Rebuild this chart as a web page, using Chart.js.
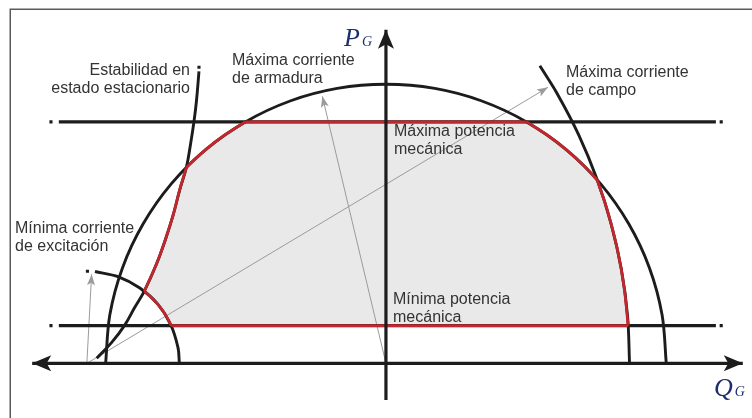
<!DOCTYPE html>
<html lang="es">
<head>
<meta charset="utf-8">
<title>Curva de capacidad del generador</title>
<script src="https://cdn.jsdelivr.net/npm/chart.js@4.4.1/dist/chart.umd.min.js"></script>
<style>
  html, body { margin: 0; padding: 0; background: #fff; }
  canvas { display: block; }
</style>
</head>
<body>
<canvas id="capability" width="752" height="418"></canvas>
<script>
"use strict";

// unidades: % de la corriente nominal de armadura (radio del círculo de armadura = 100)
const Q_AXIS = [[-126.2, 0], [127.3, 0]];
const P_AXIS = [[0, -13.1], [0, 119.5]];

// límites de potencia mecánica
const MAX_POWER_LINE = [[-116.7, 86.5], [117.7, 86.5]];
const MIN_POWER_LINE = [[-116.7, 13.5], [117.7, 13.5]];

// curvas límite (trazo negro completo)
const ARMATURE_CURVE = [
    [100, 0], [98.5, 17.4], [94.0, 34.2], [86.6, 50.0], [76.6, 64.3], [64.3, 76.6],
    [50.0, 86.6], [34.2, 94.0], [17.4, 98.5], [0, 100], [-17.4, 98.5], [-34.2, 94.0],
    [-50.0, 86.6], [-64.3, 76.6], [-76.6, 64.3], [-86.6, 50.0], [-94.0, 34.2],
    [-98.5, 17.4], [-100, 0]
];
const FIELD_CURVE = [
    [54.9, 106.6], [61.0, 96.8], [68.8, 81.8], [75.2, 66.2], [80.3, 50.1],
    [84.0, 33.6], [86.2, 16.9], [86.9, 0]
];
const MIN_EXCITATION_CURVE = [
    [-103.8, 32.9], [-95.4, 31.0], [-87.8, 27.0], [-81.4, 21.2], [-76.8, 13.9],
    [-74.2, 5.7], [-73.7, 0]
];
const STABILITY_CURVE = [
    [-66.7, 104.6], [-67.6, 94.0], [-68.5, 86.5], [-69.8, 78.0], [-71.2, 70.2],
    [-73.6, 62.1], [-75.9, 53.2], [-78.7, 44.3], [-81.9, 35.5], [-86.2, 25.9],
    [-89.7, 19.9], [-93.3, 13.5], [-97.9, 7.4], [-103.2, 1.8]
];

// contorno de la zona de operación (rojo), tramo a tramo
const REGION_BOTTOM = [[-76.6, 13.5], [86.4, 13.5]];
const REGION_FIELD = [[86.4, 13.5], [85.0, 26.9], [82.7, 40.2], [79.4, 53.4], [75.4, 65.7]];
const REGION_ARMATURE_RIGHT = [[75.4, 65.7], [70.7, 70.7], [64.3, 76.6], [57.4, 81.9], [50.2, 86.5]];
const REGION_TOP = [[50.2, 86.5], [-50.2, 86.5]];
const REGION_ARMATURE_LEFT = [[-50.2, 86.5], [-57.4, 81.9], [-64.3, 76.6], [-71.2, 70.2]];
const REGION_STABILITY = [[-71.2, 70.2], [-73.6, 62.1], [-75.9, 53.2], [-78.7, 44.3], [-81.9, 35.5], [-86.2, 25.9]];
const REGION_MIN_EXCITATION = [[-86.2, 25.9], [-83.4, 23.3], [-80.7, 20.3], [-78.4, 17.0], [-76.6, 13.5]];

// flechas de radio (gris)
const ARMATURE_RADIUS = [[0, 0], [-22.7, 95.7]];
const FIELD_RADIUS = [[-106.7, 0], [57.8, 98.9]];
const EXCITATION_RADIUS = [[-106.7, 0], [-105.0, 31.9]];

// puntos de remate de las líneas
const END_DOTS = [
    [-119.5, 86.5], [119.6, 86.5], [-119.5, 13.5], [119.6, 13.5],
    [-66.7, 106.1], [-106.5, 33.0]
];

const CURVE_LABELS = [
    ['Estabilidad en', 'estado estacionario'],
    ['Máxima corriente', 'de armadura'],
    ['Máxima corriente', 'de campo'],
    ['Máxima potencia', 'mecánica'],
    ['Mínima corriente', 'de excitación'],
    ['Mínima potencia', 'mecánica']
];
const AXIS_LABELS = [['P', 'G'], ['Q', 'G']];

const BLACK = '#1c1c1c';
const RED = '#c1272d';
const GREY = '#9b9b9b';
const FILL = '#e9e9e9';
const TEXT = '#333333';
const NAVY = '#1c2e6e';

const toXY = pts => pts.map(([x, y]) => ({ x, y }));

function line(points, color, width, extra) {
    return Object.assign({
        data: toXY(points),
        borderColor: color,
        borderWidth: width,
        pointRadius: 0,
        pointHoverRadius: 0,
        fill: false,
        tension: 0,
        borderCapStyle: 'butt'
    }, extra);
}

const regionOutline = [].concat(
    REGION_BOTTOM, REGION_FIELD, REGION_ARMATURE_RIGHT, REGION_TOP,
    REGION_ARMATURE_LEFT, REGION_STABILITY, REGION_MIN_EXCITATION
);

const datasets = [
    // zona de operación
    line(regionOutline, 'rgba(0,0,0,0)', 0, { fill: 'shape', backgroundColor: FILL, order: 10 }),
    // radios
    line(ARMATURE_RADIUS, GREY, 1, { order: 8, arrow: ['end'] }),
    line(FIELD_RADIUS, GREY, 1, { order: 8, arrow: ['end'] }),
    line(EXCITATION_RADIUS, GREY, 1, { order: 8, arrow: ['end'] }),
    // curvas límite
    line(ARMATURE_CURVE, BLACK, 2.9, { tension: 0.34, order: 6 }),
    line(FIELD_CURVE, BLACK, 2.9, { tension: 0.34, order: 6 }),
    line(MIN_EXCITATION_CURVE, BLACK, 2.9, { tension: 0.34, order: 6 }),
    line(STABILITY_CURVE, BLACK, 2.9, { tension: 0.4, order: 6 }),
    line(MAX_POWER_LINE, BLACK, 3.2, { order: 6 }),
    line(MIN_POWER_LINE, BLACK, 3.2, { order: 6 }),
    // contorno rojo
    line(REGION_BOTTOM, RED, 2.8, { order: 4 }),
    line(REGION_FIELD, RED, 2.8, { tension: 0.34, order: 4 }),
    line(REGION_ARMATURE_RIGHT, RED, 2.8, { tension: 0.34, order: 4 }),
    line(REGION_TOP, RED, 2.8, { order: 4 }),
    line(REGION_ARMATURE_LEFT, RED, 2.8, { tension: 0.34, order: 4 }),
    line(REGION_STABILITY, RED, 2.8, { tension: 0.4, order: 4 }),
    line(REGION_MIN_EXCITATION, RED, 2.8, { tension: 0.34, order: 4 }),
    // ejes
    line(Q_AXIS, BLACK, 3.2, { order: 2, arrow: ['start', 'end'], arrowSize: 'big' }),
    line(P_AXIS, BLACK, 3.2, { order: 2, arrow: ['end'], arrowSize: 'big' }),
    {
        data: toXY(END_DOTS),
        showLine: false,
        pointStyle: 'rect',
        pointRadius: 2.2,
        pointHoverRadius: 2.2,
        pointBorderWidth: 0,
        pointBackgroundColor: BLACK,
        order: 1
    }
];

function drawArrowHead(ctx, tip, from, len, half, notch, color) {
    const dx = tip.x - from.x, dy = tip.y - from.y;
    const d = Math.hypot(dx, dy);
    const ux = dx / d, uy = dy / d;
    const nx = -uy, ny = ux;
    const bx = tip.x - ux * len, by = tip.y - uy * len;
    ctx.beginPath();
    ctx.moveTo(tip.x, tip.y);
    ctx.lineTo(bx + nx * half, by + ny * half);
    ctx.lineTo(tip.x - ux * (len - notch), tip.y - uy * (len - notch));
    ctx.lineTo(bx - nx * half, by - ny * half);
    ctx.closePath();
    ctx.fillStyle = color;
    ctx.fill();
}

const arrowHeads = {
    id: 'arrowHeads',
    afterDatasetsDraw(chart) {
        const ctx = chart.ctx;
        chart.data.datasets.forEach((ds, i) => {
            if (!ds.arrow) return;
            const pts = chart.getDatasetMeta(i).data;
            const big = ds.arrowSize === 'big';
            const len = big ? 19 : 11, half = big ? 8 : 4, notch = big ? 4.5 : 2.5;
            ds.arrow.forEach(end => {
                const tip = end === 'end' ? pts[pts.length - 1] : pts[0];
                const from = end === 'end' ? pts[pts.length - 2] : pts[1];
                drawArrowHead(ctx, tip, from, len, half, notch, ds.borderColor);
            });
        });
    }
};

// marco y textos
const frameAndText = {
    id: 'frameAndText',
    beforeDraw(chart) {
        const ctx = chart.ctx;
        ctx.save();
        ctx.fillStyle = '#fff';
        ctx.fillRect(0, 0, chart.width, chart.height);
        ctx.strokeStyle = '#5a5a5a';
        ctx.lineWidth = 1.5;
        ctx.strokeRect(10.25, 9.25, chart.width + 20, chart.height + 20);
        ctx.restore();
    },
    afterDraw(chart) {
        const ctx = chart.ctx;
        const places = [
            { x: 190, y: 75, align: 'right' },
            { x: 232, y: 65, align: 'left' },
            { x: 566, y: 77, align: 'left' },
            { x: 394, y: 136, align: 'left' },
            { x: 15, y: 233, align: 'left' },
            { x: 393, y: 304, align: 'left' }
        ];
        ctx.save();
        ctx.font = '16px "Liberation Sans", Arial, sans-serif';
        ctx.fillStyle = TEXT;
        ctx.textBaseline = 'alphabetic';
        CURVE_LABELS.forEach((lines, i) => {
            const p = places[i];
            ctx.textAlign = p.align;
            lines.forEach((txt, k) => ctx.fillText(txt, p.x, p.y + k * 18));
        });

        const axisPlaces = [{ x: 344, y: 46 }, { x: 714, y: 396 }];
        ctx.textAlign = 'left';
        ctx.fillStyle = NAVY;
        AXIS_LABELS.forEach(([main, sub], i) => {
            const p = axisPlaces[i];
            ctx.font = 'italic 26px "Liberation Serif", serif';
            ctx.fillText(main, p.x, p.y);
            const w = ctx.measureText(main).width;
            ctx.font = 'italic 14px "Liberation Serif", serif';
            ctx.fillText(sub, p.x + w + 2, p.y);
        });
        ctx.restore();
    }
};

const chart = new Chart(document.getElementById('capability'), {
    type: 'line',
    data: { datasets },
    options: {
        responsive: false,
        devicePixelRatio: 1,
        animation: false,
        events: [],
        layout: { padding: 0 },
        scales: {
            x: { type: 'linear', min: -136.9, max: 129.8, display: false },
            y: { type: 'linear', min: -18.8, max: 129.4, display: false }
        },
        plugins: {
            legend: { display: false },
            tooltip: { enabled: false }
        }
    },
    plugins: [arrowHeads, frameAndText]
});
</script>
</body>
</html>
